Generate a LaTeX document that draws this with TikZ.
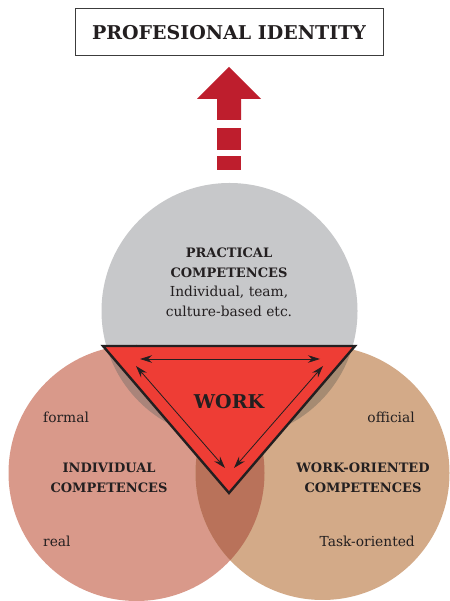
\documentclass[tikz,border=0pt]{standalone}
\usepackage{fontspec}
\setmainfont{DejaVu Serif}
\usetikzlibrary{positioning,arrows.meta}

\tikzset{
  capsLabel/.style={text=textColor,align=center,inner sep=0pt,font=\bfseries\fontsize{13}{20}\selectfont},
  plainLabel/.style={text=textColor,inner sep=0pt,font=\fontsize{13.8}{20}\selectfont},
  innerArrow/.style={draw=textColor,line width=0.8pt,{Stealth[length=12pt,width=7.5pt]}-{Stealth[length=12pt,width=7.5pt]}}
}

\begin{document}
\begin{tikzpicture}[x=1pt,y=1pt]
\definecolor{fillColor}{RGB}{255,255,255}
\definecolor{textColor}{RGB}{35,31,32}
\definecolor{grayCirc}{RGB}{199,200,202}
\definecolor{leftCirc}{RGB}{217,153,138}
\definecolor{rightCirc}{RGB}{211,170,136}
\definecolor{leftRight}{RGB}{185,114,90}
\definecolor{grayLeft}{RGB}{170,132,122}
\definecolor{grayRight}{RGB}{166,139,114}
\definecolor{workRed}{RGB}{238,61,53}
\definecolor{arrowRed}{RGB}{190,30,45}
\definecolor{boxColor}{RGB}{60,60,60}
\path[use as bounding box,fill=fillColor] (0,0) rectangle (449,601);

% the three circles
\path[fill=grayCirc] (229.5,290) circle (128);
\path[fill=leftCirc] (136.5,128) circle (128);
\path[fill=rightCirc] (322.5,128) circle (127);
\begin{scope}
\path[clip] (136.5,128) circle (128);
\path[fill=leftRight] (322.5,128) circle (127);
\end{scope}
\begin{scope}
\path[clip] (229.5,290) circle (128);
\path[fill=grayLeft] (136.5,128) circle (128);
\end{scope}
\begin{scope}
\path[clip] (229.5,290) circle (128);
\path[fill=grayRight] (322.5,128) circle (127);
\end{scope}

% work triangle
\coordinate (tl) at (103,255);
\coordinate (tr) at (355,255);
\coordinate (apex) at (229,108);
\path[draw=textColor,line width=2.4pt,fill=workRed,line join=miter] (tl) -- (tr) -- (apex) -- cycle;

\coordinate (h1) at (140,242);
\coordinate (h2) at (320,242);
\coordinate (l1) at (136,235);
\coordinate (l2) at (225,133);
\coordinate (r1) at (323,235);
\coordinate (r2) at (234,133);
\draw[innerArrow] (h1) -- (h2);
\draw[innerArrow] (l1) -- (l2);
\draw[innerArrow] (r1) -- (r2);

\node[text=textColor,inner sep=0pt,font=\bfseries\fontsize{19}{24}\selectfont] (work) at (229,199) {WORK};

% identity box and dashed arrow
\node[draw=boxColor,line width=1pt,minimum width=308,minimum height=47,inner sep=0pt,text=textColor,font=\bfseries\fontsize{19}{22}\selectfont] (identity) at (229,568.5) {PROFESIONAL IDENTITY};

\path[fill=arrowRed] (217,502) -- (197,502) -- (229,534) -- (261,502) -- (241,502) -- (241,481) -- (217,481) -- cycle;
\path[fill=arrowRed] (217,473) rectangle (241,451);
\path[fill=arrowRed] (217,445) rectangle (241,431);

% labels
\node[capsLabel] (practical) at (229,338) {PRACTICAL\\COMPETENCES};
\node[plainLabel,align=center] (practicalSub) at (229,300) {Individual, team,\\culture-based etc.};

\node[capsLabel] (individual) at (109,123) {INDIVIDUAL\\COMPETENCES};
\node[capsLabel] (workOriented) at (363,123) {WORK-ORIENTED\\COMPETENCES};

\node[plainLabel,anchor=west] (formal) at (43,184) {formal};
\node[plainLabel,anchor=west] (real) at (43,60) {real};
\node[plainLabel,anchor=east] (official) at (415,184) {official};
\node[plainLabel,anchor=east] (taskOriented) at (415,60) {Task-oriented};
\end{tikzpicture}
\end{document}
